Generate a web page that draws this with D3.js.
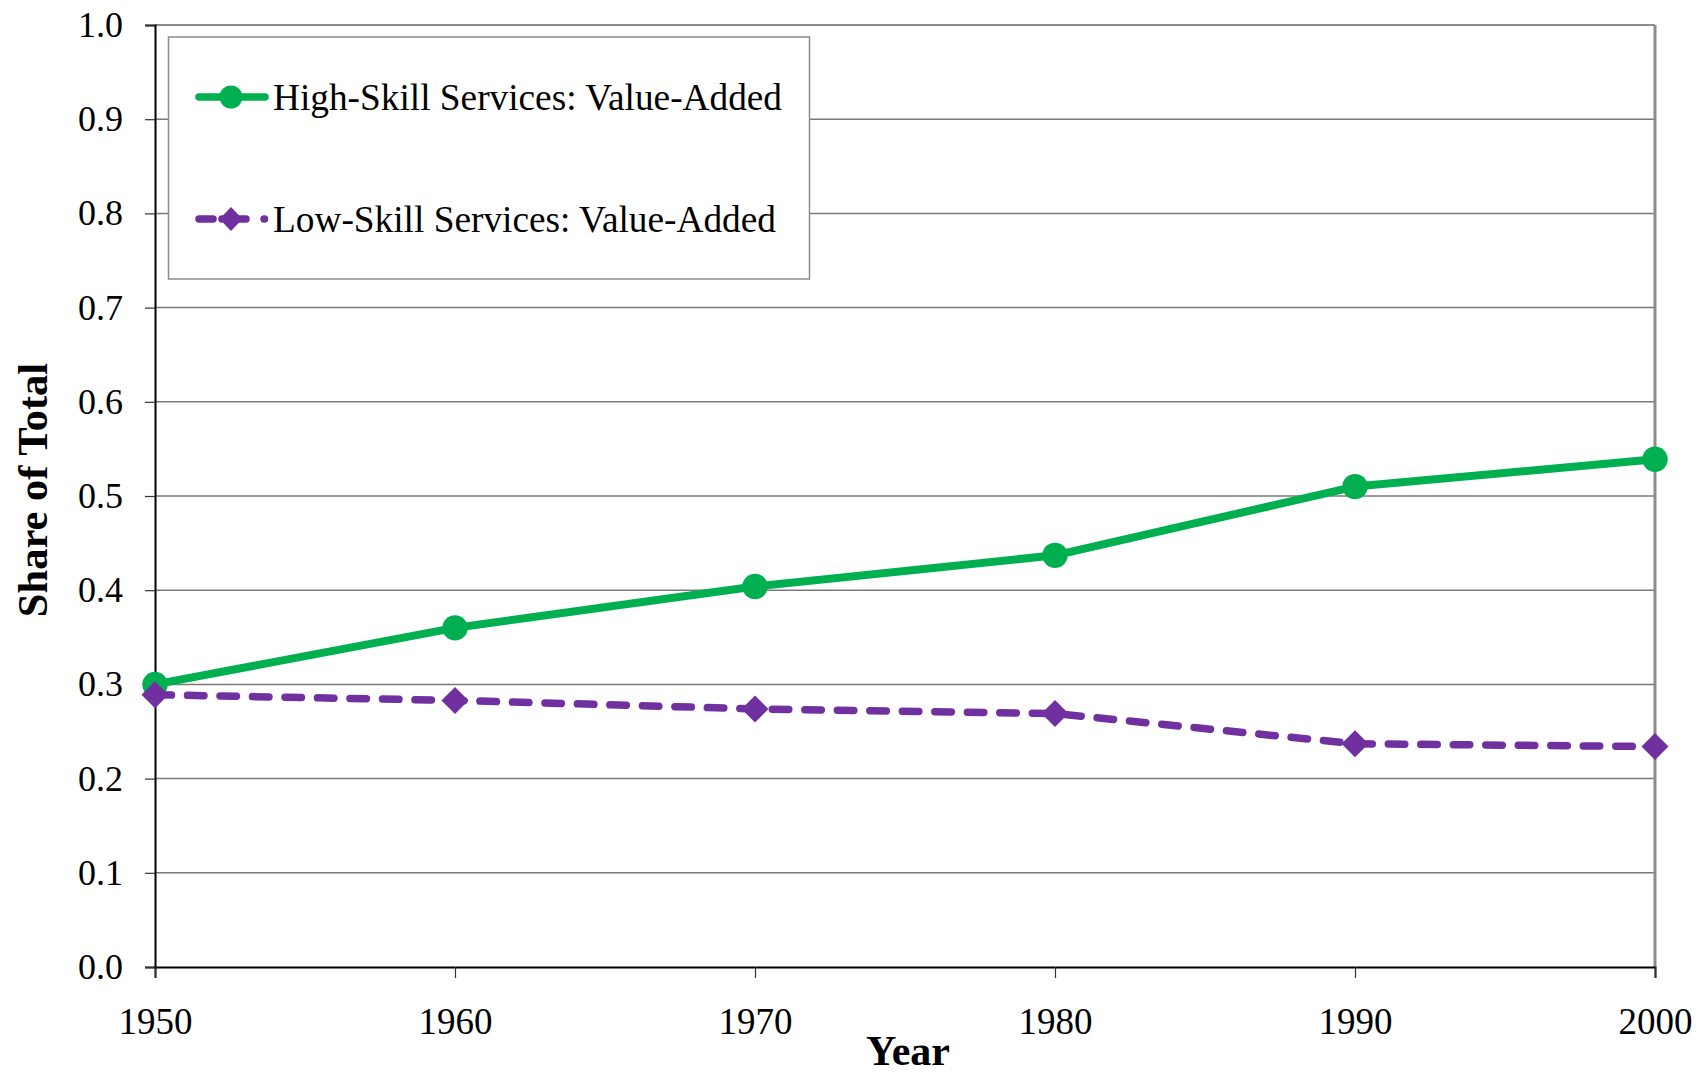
<!DOCTYPE html>
<html>
<head>
<meta charset="utf-8">
<script src="https://cdn.jsdelivr.net/npm/d3@7"></script>
<style>
  body { margin: 0; background: #fff; }
  svg { display: block; font-family: "Liberation Serif", "Times New Roman", serif; }
</style>
</head>
<body>
<div id="chart-container"></div>
<script>
// Data
const years = [1950, 1960, 1970, 1980, 1990, 2000];
const highSkill = [0.300, 0.360, 0.404, 0.437, 0.510, 0.539];
const lowSkill = [0.289, 0.283, 0.274, 0.269, 0.237, 0.234];
const yTicks = [0, 0.1, 0.2, 0.3, 0.4, 0.5, 0.6, 0.7, 0.8, 0.9, 1.0];
const seriesNames = ['High-Skill Services: Value-Added', 'Low-Skill Services: Value-Added'];

// Layout
const svgWidth = 1700;
const svgHeight = 1073;
const margin = { top: 25, right: 45, bottom: 106, left: 155 };
const chartWidth = svgWidth - margin.left - margin.right;
const chartHeight = svgHeight - margin.top - margin.bottom;

const green = '#00B050';
const purple = '#7030A0';

const svg = d3.select('#chart-container')
  .append('svg')
  .attr('width', svgWidth)
  .attr('height', svgHeight);

const chart = svg.append('g')
  .attr('transform', `translate(${margin.left}, ${margin.top})`);

const xScale = d3.scaleLinear()
  .domain([1950, 2000])
  .range([0, chartWidth]);

const yScale = d3.scaleLinear()
  .domain([0, 1])
  .range([chartHeight, 0]);

// Gridlines
chart.append('g')
  .selectAll('line')
  .data(yTicks.filter(t => t > 0 && t < 1))
  .enter()
  .append('line')
  .attr('x1', 0)
  .attr('x2', chartWidth)
  .attr('y1', d => yScale(d))
  .attr('y2', d => yScale(d))
  .attr('stroke', '#7a7a7a')
  .attr('stroke-width', 1.5);

// Top and right border
chart.append('line')
  .attr('x1', 0).attr('x2', chartWidth)
  .attr('y1', 0).attr('y2', 0)
  .attr('stroke', '#8c8c8c').attr('stroke-width', 2);
chart.append('line')
  .attr('x1', chartWidth).attr('x2', chartWidth)
  .attr('y1', 0).attr('y2', chartHeight)
  .attr('stroke', '#8c8c8c').attr('stroke-width', 3);

// Axes
const yAxis = d3.axisLeft(yScale)
  .tickValues(yTicks)
  .tickFormat(d3.format('.1f'))
  .tickSize(10)
  .tickPadding(22);

const xAxis = d3.axisBottom(xScale)
  .tickValues(years)
  .tickFormat(d3.format('d'))
  .tickSize(11)
  .tickPadding(30);

const gy = chart.append('g').call(yAxis);
const gx = chart.append('g')
  .attr('transform', `translate(0, ${chartHeight})`)
  .call(xAxis);

[gx, gy].forEach(g => {
  g.select('.domain').attr('stroke', '#000').attr('stroke-width', 2);
  g.selectAll('.tick line').attr('stroke', '#333').attr('stroke-width', 1.2);
  g.selectAll('.tick text')
    .attr('fill', '#000')
    .style('font-family', '"Liberation Serif", "Times New Roman", serif');
});
gy.selectAll('.tick text').style('font-size', '36px');
gx.selectAll('.tick text').style('font-size', '37px');

// Axis titles
svg.append('text')
  .attr('x', 908)
  .attr('y', 1065)
  .attr('text-anchor', 'middle')
  .style('font-size', '42px')
  .style('font-weight', 'bold')
  .text('Year');

svg.append('text')
  .attr('transform', 'translate(47, 490) rotate(-90)')
  .attr('text-anchor', 'middle')
  .style('font-size', '42.5px')
  .style('font-weight', 'bold')
  .text('Share of Total');

// Lines
const line = d3.line()
  .x(d => xScale(d[0]))
  .y(d => yScale(d[1]));

const highData = years.map((y, i) => [y, highSkill[i]]);
const lowData = years.map((y, i) => [y, lowSkill[i]]);

chart.append('path')
  .datum(highData)
  .attr('d', line)
  .attr('fill', 'none')
  .attr('stroke', green)
  .attr('stroke-width', 8)
  .attr('stroke-linejoin', 'round');

chart.selectAll('.high-pt')
  .data(highData)
  .enter()
  .append('circle')
  .attr('class', 'high-pt')
  .attr('cx', d => xScale(d[0]))
  .attr('cy', d => yScale(d[1]))
  .attr('r', 12.7)
  .attr('fill', green);

chart.append('path')
  .datum(lowData)
  .attr('d', line)
  .attr('fill', 'none')
  .attr('stroke', purple)
  .attr('stroke-width', 7.5)
  .attr('stroke-linecap', 'round')
  .attr('stroke-dasharray', '16.5 16');

const diamond = (w, h) => `M0,${-h}L${w},0L0,${h}L${-w},0Z`;

chart.selectAll('.low-pt')
  .data(lowData)
  .enter()
  .append('path')
  .attr('class', 'low-pt')
  .attr('transform', d => `translate(${xScale(d[0])}, ${yScale(d[1])})`)
  .attr('d', diamond(13.5, 13.5))
  .attr('fill', purple);

// Legend
const legend = svg.append('g');
legend.append('rect')
  .attr('x', 168.5)
  .attr('y', 37)
  .attr('width', 641)
  .attr('height', 242)
  .attr('fill', '#fff')
  .attr('stroke', '#8c8c8c')
  .attr('stroke-width', 1.5);

const legendRows = [
  { name: seriesNames[0], color: green, cy: 97, baseline: 110, width: 509, dashed: false },
  { name: seriesNames[1], color: purple, cy: 219, baseline: 232, width: 503, dashed: true }
];

legendRows.forEach(r => {
  if (r.dashed) {
    legend.append('path')
      .attr('d', `M199,${r.cy}H213M222,${r.cy}H246M264,${r.cy}H264.5`)
      .attr('stroke', r.color)
      .attr('stroke-width', 7.5)
      .attr('stroke-linecap', 'round');
    legend.append('path')
      .attr('transform', `translate(231, ${r.cy})`)
      .attr('d', diamond(11.5, 12))
      .attr('fill', r.color);
  } else {
    legend.append('line')
      .attr('x1', 199).attr('x2', 265)
      .attr('y1', r.cy).attr('y2', r.cy)
      .attr('stroke', r.color)
      .attr('stroke-width', 7.5)
      .attr('stroke-linecap', 'round');
    legend.append('circle')
      .attr('cx', 231).attr('cy', r.cy)
      .attr('r', 11.5)
      .attr('fill', r.color);
  }
  legend.append('text')
    .attr('x', 273)
    .attr('y', r.baseline)
    .attr('textLength', r.width)
    .attr('lengthAdjust', 'spacingAndGlyphs')
    .style('font-size', '37px')
    .text(r.name);
});
</script>
</body>
</html>
